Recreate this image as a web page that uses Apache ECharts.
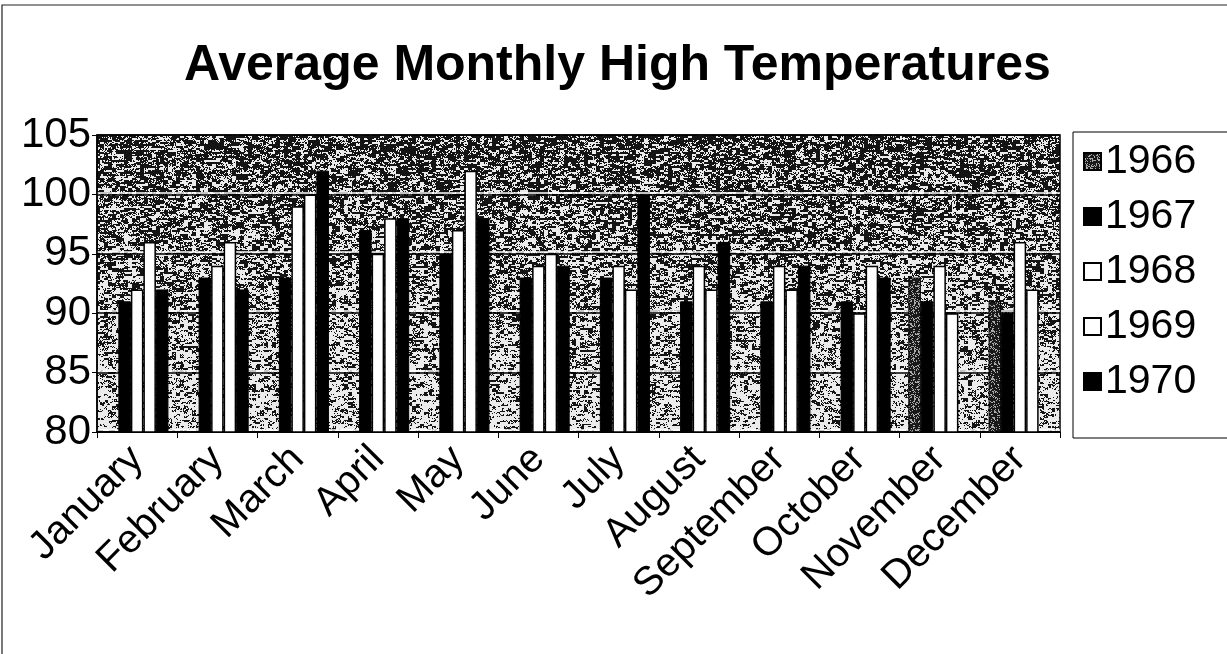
<!DOCTYPE html>
<html>
<head>
<meta charset="utf-8">
<script src="https://cdn.jsdelivr.net/npm/echarts@6/dist/echarts.min.js"></script>
<style>
  html, body { margin: 0; padding: 0; background: #fff; }
  #chart { width: 1227px; height: 654px; }
</style>
</head>
<body>
<div id="chart"></div>
<script>
// Average monthly high temperatures, by year
const months = ['January', 'February', 'March', 'April', 'May', 'June',
  'July', 'August', 'September', 'October', 'November', 'December'];
const years = ['1966', '1967', '1968', '1969', '1970'];
const y1966 = [null, null, null, null, null, null, null, null, null, null, 93, 91];
const y1967 = [91, 93, 93, 97, 95, 93, 93, 91, 91, 91, 91, 90];
const y1968 = [92, 94, 99, 95, 97, 94, 94, 94, 94, 90, 94, 96];
const y1969 = [96, 96, 100, 98, 102, 95, 92, 92, 92, 94, 90, 92];
const y1970 = [92, 92, 102, 98, 98, 94, 100, 96, 94, 93, null, null];
const yTicks = [80, 85, 90, 95, 100, 105];

// Deterministic grain used for the textured fills
function grain(x, y) {
  const s = Math.sin(x * 12.9898 + y * 78.233) * 43758.5453;
  return s - Math.floor(s);
}

// Grainy fill for the plot background: darker at the top, lighter toward the bottom
function makeBackdrop(w, h, top, bottom) {
  const c = document.createElement('canvas');
  c.width = w; c.height = h;
  const ctx = c.getContext('2d');
  const img = ctx.createImageData(w, h);
  for (let y = 0; y < h; y++) {
    const f = Math.min(1, Math.max(0, (y - top) / (bottom - top)));
    const dark = 0.62 - 0.27 * f;
    for (let x = 0; x < w; x++) {
      const n = 0.6 * grain(Math.floor(x / 4), Math.floor(y / 2)) + 0.4 * grain(x, y);
      const v = n < dark ? 20 : 235;
      const i = (y * w + x) * 4;
      img.data[i] = img.data[i + 1] = img.data[i + 2] = v;
      img.data[i + 3] = 255;
    }
  }
  ctx.putImageData(img, 0, 0);
  return c;
}

// Small dark speckled tile for the 1966 bars
function makeTile(size, dark) {
  const c = document.createElement('canvas');
  c.width = size; c.height = size;
  const ctx = c.getContext('2d');
  const img = ctx.createImageData(size, size);
  for (let y = 0; y < size; y++) {
    for (let x = 0; x < size; x++) {
      const n = grain(x + 311, y + 97);
      const v = n < dark ? 25 : 170;
      const i = (y * size + x) * 4;
      img.data[i] = img.data[i + 1] = img.data[i + 2] = v;
      img.data[i + 3] = 255;
    }
  }
  ctx.putImageData(img, 0, 0);
  return c;
}

const backdrop = makeBackdrop(1227, 654, 135, 432);
const tile1966 = makeTile(48, 0.72);

const fills = [
  { color: { image: tile1966, repeat: 'repeat' }, borderColor: '#000', borderWidth: 1 },
  { color: '#000', borderColor: '#000', borderWidth: 1 },
  { color: '#fff', borderColor: '#000', borderWidth: 1.5 },
  { color: '#fff', borderColor: '#000', borderWidth: 1.5 },
  { color: '#000', borderColor: '#000', borderWidth: 1 }
];
const values = [y1966, y1967, y1968, y1969, y1970];

const FONT = 'Liberation Sans, Arial, sans-serif';
const chart = echarts.init(document.getElementById('chart'), null, { renderer: 'canvas' });

chart.setOption({
  animation: false,
  backgroundColor: '#fff',
  textStyle: { fontFamily: FONT, color: '#000' },
  title: {
    text: 'Average Monthly High Temperatures',
    left: 179,
    top: 36,
    textStyle: { fontSize: 50, fontWeight: 'bold', color: '#000', fontFamily: FONT }
  },
  graphic: [{
    type: 'rect',
    shape: { x: 2, y: 5, width: 1240, height: 660 },
    style: { fill: 'none', stroke: '#222', lineWidth: 1.2 },
    silent: true,
    z: -1
  }],
  legend: {
    orient: 'vertical',
    left: 1073,
    top: 132,
    padding: [9, 80, 36, 10],
    itemGap: 14,
    itemWidth: 17,
    itemHeight: 17,
    icon: 'rect',
    borderColor: '#000',
    borderWidth: 1,
    backgroundColor: '#fff',
    textStyle: { fontSize: 41, color: '#000', fontFamily: FONT, padding: [0, 0, 0, -1] },
    data: years
  },
  grid: {
    left: 97,
    right: 167,
    top: 135,
    bottom: 222,
    show: true,
    backgroundColor: { image: backdrop, repeat: 'no-repeat' },
    borderColor: '#000',
    borderWidth: 1.5
  },
  xAxis: {
    type: 'category',
    data: months,
    axisLine: { show: true, lineStyle: { color: '#000', width: 1.5 } },
    axisTick: { show: true, length: 6, lineStyle: { color: '#000' } },
    axisLabel: { rotate: 45, fontSize: 40, color: '#000', margin: 21, interval: 0 }
  },
  yAxis: {
    type: 'value',
    min: yTicks[0],
    max: yTicks[yTicks.length - 1],
    interval: 5,
    axisLine: { show: true, lineStyle: { color: '#000', width: 1.5 } },
    axisTick: { show: true, length: 5, lineStyle: { color: '#000' } },
    axisLabel: { fontSize: 42, color: '#000', margin: 6 },
    splitLine: {
      show: true,
      lineStyle: { color: '#000', width: 1.5, shadowColor: '#fff', shadowOffsetY: -2, shadowBlur: 0 }
    }
  },
  series: years.map((name, k) => ({
    name: name,
    type: 'bar',
    data: values[k],
    barGap: '0%',
    barCategoryGap: '22%',
    itemStyle: fills[k]
  }))
});
</script>
</body>
</html>
